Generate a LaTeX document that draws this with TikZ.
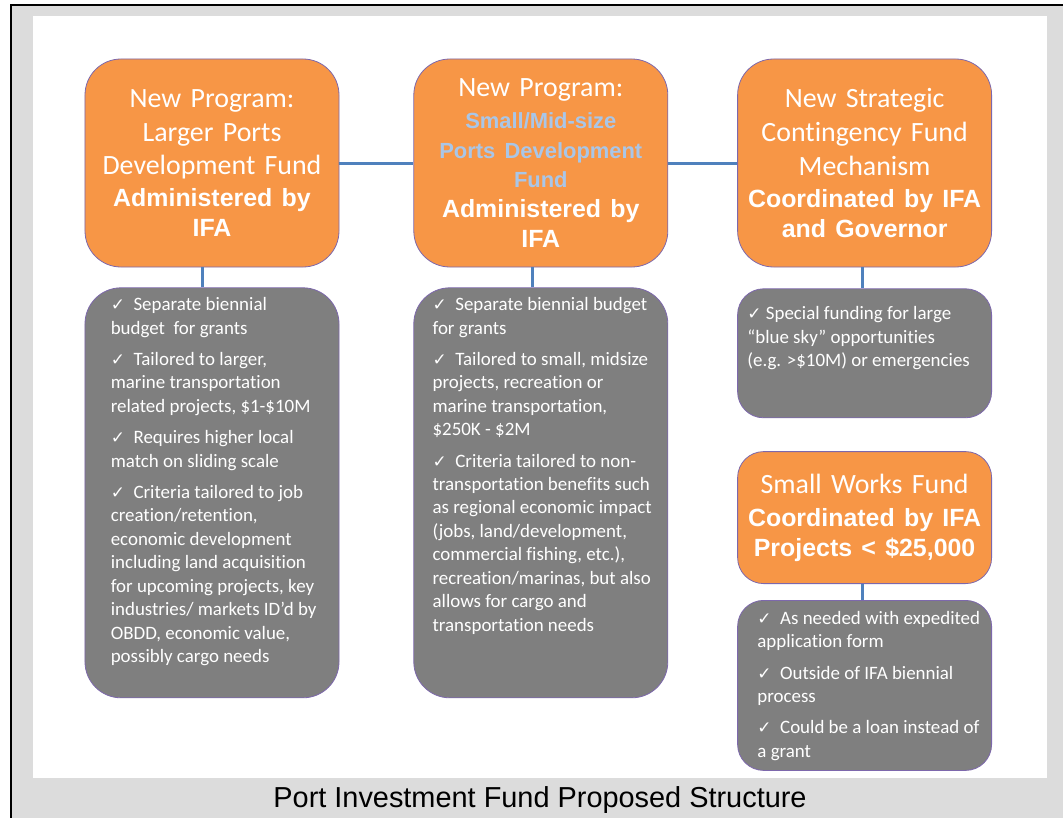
\documentclass[tikz,border=0pt]{standalone}
\usepackage{fontspec}
\setmainfont{Carlito}[Ligatures=NoCommon]
\newfontfamily\armfont{Liberation Sans}
\newfontfamily\tickfont{DejaVu Sans}
\usetikzlibrary{positioning}
\definecolor{fundorange}{HTML}{F79646}
\definecolor{fundgray}{HTML}{7F7F7F}
\definecolor{fundblue}{HTML}{A9C6E8}
\definecolor{linkblue}{HTML}{4F81BD}
\definecolor{boxedge}{HTML}{7D68AC}
\definecolor{pagegray}{HTML}{DCDCDC}
\newcommand{\tick}{{\tickfont\fontsize{17}{17}\selectfont\char"2713}}
\newcommand{\hdbold}{\armfont\bfseries\fontsize{25}{30}\selectfont}
\newcommand{\hdblue}{\armfont\bfseries\fontsize{22}{30}\selectfont\color{fundblue}}
\tikzstyle{head} = [rectangle, rounded corners=36bp, minimum width=254bp, minimum height=208bp, inner sep=0pt, text width=250bp, align=center, draw=boxedge, line width=0.8bp, fill=fundorange, text=white, font=\fontsize{28}{30}\selectfont]
\tikzstyle{body} = [rectangle, rounded corners=36bp, minimum width=254bp, minimum height=410bp, inner sep=0pt, draw=boxedge, line width=0.8bp, fill=fundgray]
\tikzstyle{list} = [anchor=north west, inner sep=0pt, align=left, text=white, font=\fontsize{19}{23.5}\selectfont]
\tikzstyle{link} = [draw=linkblue, line width=3bp]

\begin{document}
\begin{tikzpicture}[x=1bp, y=-1bp]

% Page and frame
\useasboundingbox (0,0) rectangle (1063,818);
\fill [white] (0,0) rectangle (1063,818);
\fill [pagegray] (11,5) rectangle (1063,818);
\fill [white] (33,16) rectangle (1047,778);
\draw [line width=2bp] (11,818) -- (11,5) -- (1063,5);

% Larger Ports Node
\node (largeHead) [head] at (212,163) {New Program:\\[4pt] Larger Ports\\[4pt] Development Fund\\[2pt] {\hdbold Administered by\\ IFA}};

% Small/Mid-size Ports Node
\node (smallHead) [head, right=74bp of largeHead] {New Program:\\[2pt] {\hdblue Small/Mid-size\\ Ports Development\\ Fund}\\ {\hdbold Administered by\\ IFA}};

% Strategic Contingency Node
\node (stratHead) [head, right=69bp of smallHead] {New Strategic\\[4pt] Contingency Fund\\[4pt] Mechanism\\[2pt] {\hdbold Coordinated by IFA\\ and Governor}};

% Detail Boxes
\node (largeBody) [body, below=20bp of largeHead] {};
\node (smallBody) [body, below=20bp of smallHead] {};
\node (stratBody) [body, below=21bp of stratHead, minimum height=129bp, rounded corners=26bp] {};

% Small Works Node
\node (worksHead) [head, below=33bp of stratBody, minimum height=132bp, rounded corners=26bp] {Small Works Fund\\[3pt] {\hdbold Coordinated by IFA\\ Projects < \$25,000}};
\node (worksBody) [body, below=16bp of worksHead, minimum height=170bp, rounded corners=26bp] {};

% Detail Texts
\node (largeList) [list] at ([xshift=26bp,yshift=-10bp]largeBody.north west) {
\tick\ \ Separate biennial\\
budget\ \ for grants\\[8pt]
\tick\ \ Tailored to larger,\\
marine transportation\\
related projects, \$1-\$10M\\[8pt]
\tick\ \ Requires higher local\\
match on sliding scale\\[8pt]
\tick\ \ Criteria tailored to job\\
creation/retention,\\
economic development\\
including land acquisition\\
for upcoming projects, key\\
industries/ markets ID’d by\\
OBDD, economic value,\\
possibly cargo needs};

\node (smallList) [list] at ([xshift=19bp,yshift=-10bp]smallBody.north west) {
\tick\ \ Separate biennial budget\\
for grants\\[8pt]
\tick\ \ Tailored to small, midsize\\
projects, recreation or\\
marine transportation,\\
\$250K - \$2M\\[8pt]
\tick\ \ Criteria tailored to non-\\
transportation benefits such\\
as regional economic impact\\
(jobs, land/development,\\
commercial fishing, etc.),\\
recreation/marinas, but also\\
allows for cargo and\\
transportation needs};

\node (stratList) [list] at ([xshift=10bp,yshift=-18bp]stratBody.north west) {
\tick\ Special funding for large\\
“blue sky” opportunities\\
(e.g. >\$10M) or emergencies};

\node (worksList) [list] at ([xshift=20bp,yshift=-11bp]worksBody.north west) {
\tick\ \ As needed with expedited\\
application form\\[8pt]
\tick\ \ Outside of IFA biennial\\
process\\[8pt]
\tick\ \ Could be a loan instead of\\
a grant};

% Caption
\node (caption) [font=\armfont\fontsize{29}{30}\selectfont] at (540,800) {Port Investment Fund Proposed Structure};

% Connectors
\draw [link] (largeHead.east) -- (smallHead.west);
\draw [link] (smallHead.east) -- (stratHead.west);
\draw [link] ([xshift=-10bp]largeHead.south) -- ([xshift=-10bp]largeBody.north);
\draw [link] ([xshift=-8bp]smallHead.south) -- ([xshift=-8bp]smallBody.north);
\draw [link] ([xshift=-2bp]stratHead.south) -- ([xshift=-2bp]stratBody.north);
\draw [link] ([xshift=-2bp]worksHead.south) -- ([xshift=-2bp]worksBody.north);

\end{tikzpicture}
\end{document}
